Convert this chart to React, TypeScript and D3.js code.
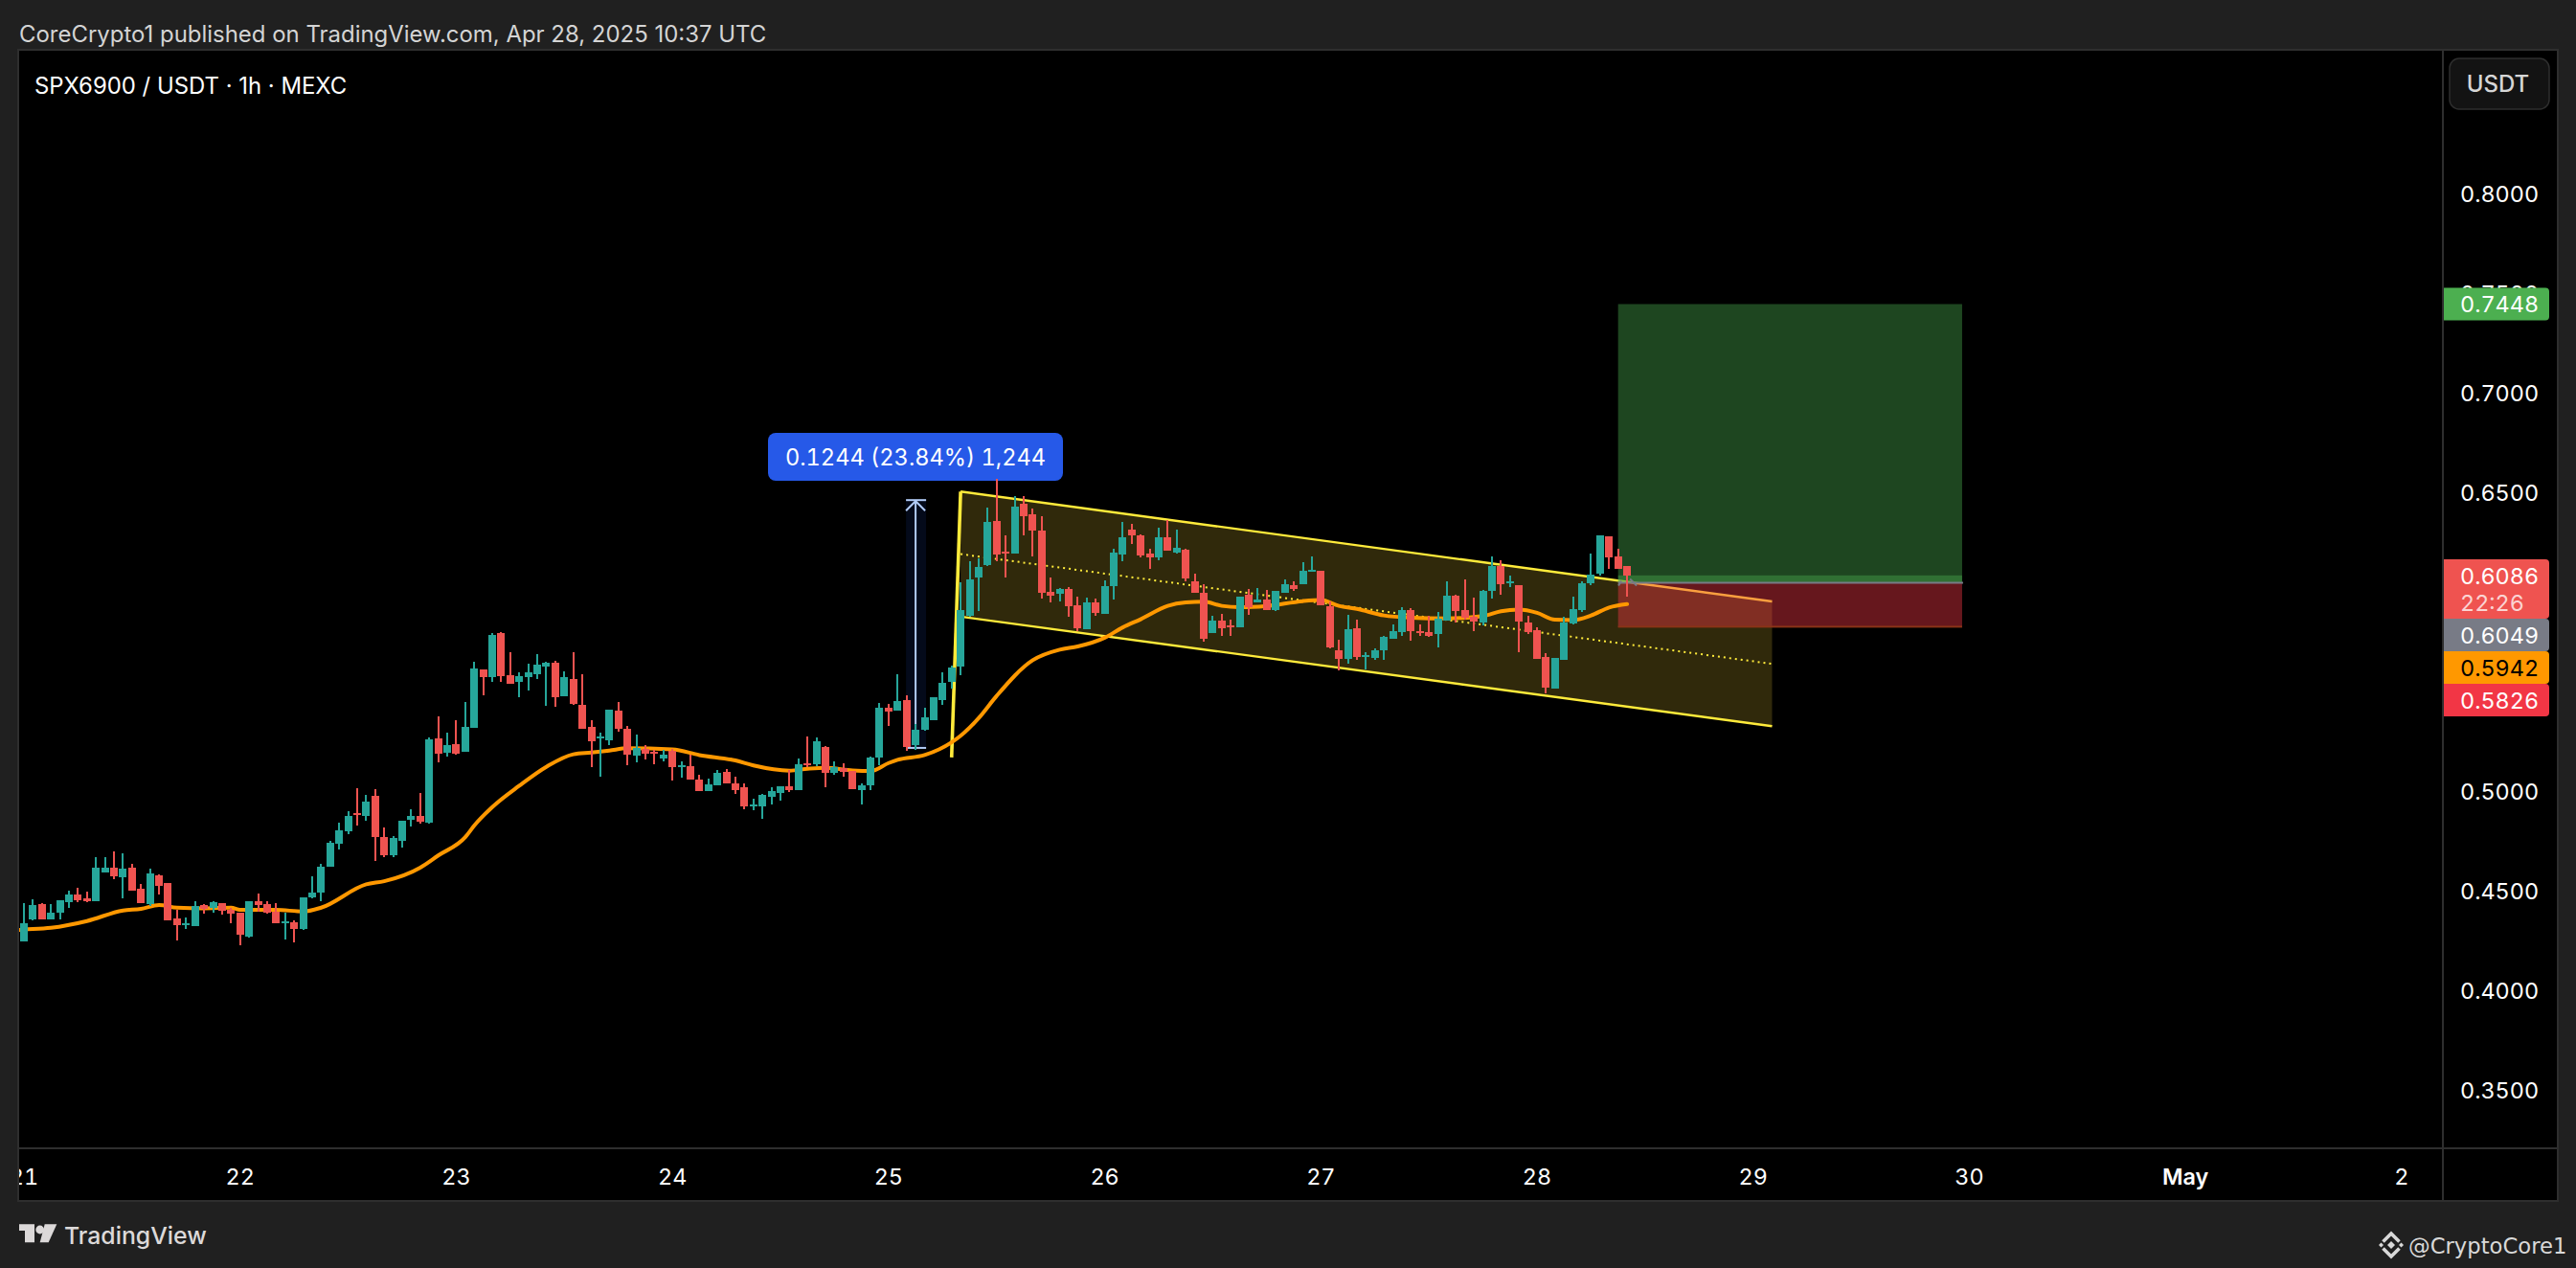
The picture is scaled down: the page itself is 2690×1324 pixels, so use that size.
import React from 'react';
import * as d3 from 'd3';

// hourly candles, first one is Apr 21 00:00 UTC
const opens = [
  .4250,.4359,.4436,.4359,.4393,.4446,.4484,.4465,.4450,.4595,.4619,.4571,.4619,.4513,.4436,.4580,.4542,.4364,.4333,.4325,
  .4430,.4417,.4441,.4407,.4393,.4273,.4450,.4436,.4399,.4340,.4345,.4311,.4470,.4494,.4624,.4739,.4801,.4893,.4878,.4979,
  .4773,.4681,.4753,.4859,.4878,.4845,.5268,.5196,.5239,.5200,.5321,.5614,.5575,.5797,.5585,.5551,.5575,.5590,.5628,.5648,
  .5479,.5566,.5436,.5326,.5271,.5258,.5407,.5316,.5181,.5215,.5199,.5167,.5205,.5127,.5128,.5061,.5003,.5032,.5100,.5042,
  .5023,.4930,.4926,.4974,.4994,.5027,.5008,.5143,.5138,.5224,.5095,.5119,.5104,.5008,.5032,.5172,.5422,.5407,.5460,.5234,
  .5311,.5359,.5460,.5551,.5628,.5883,.6075,.6138,.6359,.6205,.6196,.6446,.6393,.6311,.6003,.5994,.6018,.5936,.5816,.5950,
  .5893,.6032,.6191,.6316,.6287,.6196,.6176,.6277,.6200,.6215,.6056,.5999,.5797,.5859,.5834,.5826,.5989,.5950,.5965,.5912,
  .5999,.6037,.6042,.6104,.6109,.5931,.5710,.5667,.5821,.5680,.5672,.5710,.5768,.5801,.5912,.5806,.5801,.5792,.5859,.5984,
  .5912,.5878,.5850,.6008,.6133,.6050,.6037,.5850,.5811,.5676,.5518,.5662,.5845,.5912,.6047,.6095,.6282,.6181,.6133,
];
const highs = [
  .4441,.4460,.4441,.4436,.4455,.4503,.4518,.4499,.4672,.4672,.4700,.4691,.4638,.4537,.4614,.4585,.4542,.4407,.4369,.4450,
  .4436,.4450,.4441,.4417,.4393,.4450,.4489,.4450,.4441,.4393,.4354,.4470,.4575,.4638,.4753,.4845,.4902,.5018,.4984,.5013,
  .4821,.4777,.4854,.4912,.4994,.5273,.5378,.5297,.5359,.5450,.5652,.5614,.5797,.5801,.5700,.5600,.5643,.5691,.5652,.5657,
  .5604,.5700,.5590,.5359,.5297,.5412,.5450,.5330,.5287,.5234,.5210,.5210,.5215,.5152,.5186,.5085,.5066,.5109,.5114,.5075,
  .5042,.4965,.4989,.5022,.5027,.5109,.5167,.5277,.5273,.5229,.5152,.5143,.5104,.5042,.5176,.5446,.5441,.5590,.5484,.5340,
  .5422,.5475,.5600,.5633,.6051,.6157,.6172,.6426,.6571,.6287,.6484,.6484,.6422,.6383,.6075,.6022,.6027,.5979,.5975,.5970,
  .6061,.6220,.6354,.6345,.6292,.6220,.6325,.6364,.6316,.6220,.6095,.6042,.5883,.5893,.5864,.5979,.6018,.6023,.6013,.6008,
  .6066,.6056,.6152,.6181,.6109,.5955,.5763,.5888,.5864,.5700,.5720,.5782,.5840,.5927,.5922,.5840,.5883,.5902,.6056,.5989,
  .6066,.5975,.6013,.6181,.6162,.6085,.6037,.5883,.5826,.5696,.5672,.5878,.5979,.6056,.6196,.6287,.6282,.6220,.6133,
];
const lows = [
  .4250,.4354,.4359,.4359,.4359,.4417,.4446,.4446,.4450,.4595,.4561,.4465,.4503,.4441,.4426,.4484,.4354,.4253,.4311,.4325,
  .4388,.4393,.4383,.4340,.4229,.4268,.4398,.4388,.4340,.4258,.4244,.4306,.4465,.4450,.4624,.4710,.4787,.4830,.4854,.4652,
  .4672,.4672,.4720,.4825,.4840,.4840,.5148,.5176,.5186,.5200,.5321,.5484,.5551,.5551,.5542,.5475,.5508,.5566,.5431,.5426,
  .5479,.5436,.5316,.5124,.5075,.5234,.5301,.5133,.5148,.5162,.5138,.5152,.5056,.5071,.5061,.5003,.5003,.5032,.5042,.4989,
  .4912,.4907,.4864,.4936,.4955,.5000,.5008,.5124,.5128,.5022,.5085,.5075,.5013,.4936,.5008,.5133,.5330,.5407,.5205,.5210,
  .5306,.5359,.5436,.5518,.5585,.5878,.5907,.6133,.6157,.6075,.6196,.6287,.6181,.5970,.5950,.5955,.5878,.5806,.5816,.5883,
  .5893,.5965,.6157,.6244,.6176,.6119,.6162,.6210,.6196,.6056,.5998,.5753,.5797,.5782,.5782,.5826,.5888,.5950,.5912,.5907,
  .5999,.6008,.6042,.6104,.5936,.5720,.5609,.5643,.5662,.5614,.5662,.5662,.5768,.5782,.5758,.5782,.5777,.5725,.5859,.5850,
  .5864,.5806,.5835,.5970,.5989,.6027,.5700,.5792,.5667,.5494,.5518,.5662,.5840,.5902,.6037,.6085,.6119,.6119,.5979,
];
const closes = [
  .4340,.4431,.4359,.4393,.4455,.4484,.4455,.4450,.4619,.4619,.4575,.4614,.4503,.4441,.4590,.4527,.4354,.4330,.4340,.4426,
  .4412,.4446,.4402,.4388,.4282,.4450,.4431,.4393,.4340,.4350,.4311,.4470,.4494,.4624,.4744,.4806,.4878,.4883,.4950,.4773,
  .4681,.4768,.4854,.4878,.4849,.5263,.5191,.5234,.5191,.5326,.5619,.5575,.5787,.5580,.5542,.5580,.5600,.5638,.5648,.5475,
  .5575,.5441,.5316,.5253,.5277,.5412,.5316,.5186,.5220,.5191,.5193,.5186,.5124,.5133,.5061,.5003,.5037,.5095,.5042,.5008,
  .4926,.4936,.4984,.5003,.5027,.5008,.5138,.5132,.5253,.5096,.5124,.5101,.5013,.5032,.5172,.5422,.5402,.5455,.5224,.5311,
  .5374,.5475,.5547,.5625,.5912,.6066,.6128,.6354,.6191,.6196,.6431,.6383,.6311,.5998,.5984,.6018,.5931,.5821,.5950,.5898,
  .6032,.6200,.6277,.6287,.6186,.6176,.6277,.6210,.6225,.6071,.5998,.5768,.5859,.5821,.5827,.5979,.5927,.5965,.5912,.6008,
  .6042,.6018,.6109,.6114,.5936,.5725,.5667,.5816,.5676,.5686,.5710,.5777,.5806,.5912,.5806,.5797,.5782,.5869,.5984,.5907,
  .5874,.5854,.6008,.6133,.6042,.6056,.5854,.5801,.5667,.5523,.5672,.5850,.5917,.6047,.6090,.6287,.6176,.6119,.6086,
];

const maBars = [
  -1,0,3,7,11,13,15,17,20,23,24,28,31,33,38,40,44,46,49,50,52,55,58,61,63,65,67,72,75,79,81,85,87,89,92,94,96,97,100,103,
  104,106,108,112,115,117,120,122,124,127,129,131,133,135,138,142,144,146,148,151,154,158,162,164,166,168,170,172,174,176,178,
];
const maValues = [
  .4305,.4308,.4317,.4351,.4404,.4412,.4431,.4418,.4415,.4418,.4407,.4407,.4399,.4418,.4535,.4551,.4619,.4680,.4772,.4830,.4923,
  .5030,.5125,.5188,.5197,.5207,.5218,.5212,.5184,.5157,.5132,.5106,.5115,.5120,.5107,.5104,.5144,.5160,.5184,.5248,
  .5281,.5369,.5481,.5660,.5713,.5729,.5773,.5825,.5866,.5933,.5950,.5954,.5933,.5926,.5933,.5957,.5962,.5933,.5918,.5885,.5874,
  .5870,.5882,.5906,.5914,.5898,.5864,.5862,.5885,.5925,.5942,
];

// 0.55 and 0.60 sit behind the price labels, so they are left out
const priceTicks = [.35,.4,.45,.5,.65,.7,.75,.8];
const dayLabels = ['21','22','23','24','25','26','27','28','29','30','May','2'];
const dayBars = dayLabels.map((_, k) => k * 24);

// parallel channel drawing: bar / price anchors
const channelBars = [104, 194.1];
const channelUpper = [.6507, .5955];
const channelLower = [.5879, .5329];
const channelLegBars = [103, 104];
const channelLegPrices = [.5172, .6507];

// long position tool
const positionBars = [177, 215.2];
const positionPrices = { target: .7448, entry: .6049, close: .6086, stop: .5826 };

// price range tool
const rangeBar = 99;
const rangeTop = .6464;
const rangeBottom = .5220;

const axisLabels = [
  { text: '0.7448', price: .7448, fill: '#4caf50', color: '#ffffff', h: 34 },
  { text: '0.6049', price: .6049, fill: '#787b86', color: '#ffffff', h: 34, mid: 663 },
  { text: '0.5942', price: .5942, fill: '#ff9800', color: '#000000', h: 34, mid: 697 },
  { text: '0.5826', price: .5826, fill: '#f23645', color: '#ffffff', h: 34, mid: 731 },
];

const W = 2690;
const H = 1324;
const plot = { left: 20, right: 2551, top: 53, bottom: 1199, outerRight: 2670, outerBottom: 1253 };
const FONT = 'Inter, "Noto Sans", sans-serif';
const UP = '#26a69a';
const DOWN = '#ef5350';
const TNUM: React.CSSProperties = { fontVariantNumeric: 'tabular-nums' };

const x = d3.scaleLinear().domain([0, 178]).range([25, 25 + 178 * 9.405]);
const y = d3.scaleLinear().domain([.35, .8]).range([1138.7, 202.7]);

const App: React.FC = () => {
  const maLine = d3.line<number>()
    .x((_, i) => x(maBars[i]))
    .y(d => y(d))
    .curve(d3.curveMonotoneX);

  const chUp = channelBars.map((b, i) => [x(b), y(channelUpper[i])]);
  const chLow = channelBars.map((b, i) => [x(b), y(channelLower[i])]);
  const chMid = channelBars.map((b, i) => [x(b), y((channelUpper[i] + channelLower[i]) / 2)]);
  const legLine = channelLegBars.map((b, i) => [x(b), y(channelLegPrices[i])]);

  const pL = x(positionBars[0]);
  const pR = x(positionBars[1]);
  const rx = x(rangeBar);
  const rTop = y(rangeTop);
  const rBot = y(rangeBottom);

  return (
    <div style={{ position: 'fixed', left: 0, top: 0 }}>
      <svg width={W} height={H} style={{ display: 'block', background: '#202020' }} fontFamily={FONT}>
        <defs>
          <clipPath id="plotClip">
            <rect x={plot.left} y={plot.top} width={plot.right - plot.left} height={plot.bottom - plot.top} />
          </clipPath>
          <clipPath id="timeClip">
            <rect x={plot.left} y={plot.bottom} width={plot.right - plot.left} height={plot.outerBottom - plot.bottom} />
          </clipPath>
        </defs>

        <text x={20} y={44} fontSize={23.95} fill="#d4d4d4">CoreCrypto1 published on TradingView.com, Apr 28, 2025 10:37 UTC</text>

        <rect x={plot.left} y={plot.top} width={plot.outerRight - plot.left} height={plot.outerBottom - plot.top} fill="#000" />

        <g clipPath="url(#plotClip)">
          {/* channel */}
          <path d={`M${legLine[1]}L${chUp[1]}L${chLow[1]}L${chLow[0]}Z`} fill="#ffd83b" fillOpacity={0.19} />
          <line x1={chUp[0][0]} y1={chUp[0][1]} x2={chUp[1][0]} y2={chUp[1][1]} stroke="#ffeb3b" strokeWidth={2.4} />
          <line x1={chLow[0][0]} y1={chLow[0][1]} x2={chLow[1][0]} y2={chLow[1][1]} stroke="#ffeb3b" strokeWidth={2.4} />
          <line x1={chMid[0][0]} y1={chMid[0][1]} x2={chMid[1][0]} y2={chMid[1][1]} stroke="#ffeb3b" strokeWidth={2} strokeDasharray="2 4" />
          <line x1={legLine[0][0]} y1={legLine[0][1]} x2={legLine[1][0]} y2={legLine[1][1]} stroke="#ffeb3b" strokeWidth={3.6} />

          {/* position tool */}
          <rect x={pL} y={y(positionPrices.target)} width={pR - pL} height={y(positionPrices.entry) - y(positionPrices.target)} fill="#4caf50" fillOpacity={0.4} />
          <rect x={pL} y={y(positionPrices.close)} width={pR - pL} height={y(positionPrices.entry) - y(positionPrices.close)} fill="#4caf50" fillOpacity={0.4} />
          <rect x={pL} y={y(positionPrices.entry)} width={pR - pL} height={y(positionPrices.stop) - y(positionPrices.entry)} fill="#f23645" fillOpacity={0.42} />
          <rect x={pL} y={y(positionPrices.stop) - 1.5} width={pR - pL} height={2} fill="#8a3318" />
          <rect x={pL} y={y(positionPrices.entry) - 1} width={pR - pL + 1} height={2} fill="#787b86" />
          <path
            d={`M${x(178) - 9},${y(positionPrices.entry) + 3}L${x(178) - 6},${y(positionPrices.entry) - 2}M${x(178) + 3},${y(positionPrices.entry) - 4}L${x(178) + 10},${y(positionPrices.entry) + 3}`}
            stroke="#787b86"
            strokeWidth={2}
            fill="none"
          />

          {/* price range tool */}
          <rect x={rx - 10} y={rTop} width={21} height={rBot - rTop} fill="#2962ff" fillOpacity={0.1} />
          <line x1={rx} y1={rTop} x2={rx} y2={rBot} stroke="#b2ccf7" strokeWidth={2} />
          <line x1={rx - 10} y1={rTop} x2={rx + 11} y2={rTop} stroke="#b2ccf7" strokeWidth={2} />
          <line x1={rx - 10} y1={rBot} x2={rx + 11} y2={rBot} stroke="#b2ccf7" strokeWidth={2} />
          <path d={`M${rx - 10},${rTop + 11}L${rx},${rTop + 1}L${rx + 10},${rTop + 11}`} stroke="#b2ccf7" strokeWidth={2} fill="none" />
          <rect x={802} y={452} width={308} height={50} rx={8} fill="#2659e8" />
          <text x={956} y={486} fontSize={23.6} fill="#ffffff" textAnchor="middle" style={TNUM}>0.1244 (23.84%) 1,244</text>

          <path d={maLine(maValues) ?? ''} fill="none" stroke="#ff9800" strokeWidth={4} strokeLinejoin="round" strokeLinecap="round" />

          <g shapeRendering="crispEdges">
            {opens.map((o, i) => {
              const c = closes[i];
              const color = c >= o ? UP : DOWN;
              const cx = Math.round(x(i));
              const top = Math.round(y(Math.max(o, c)));
              const bot = Math.round(y(Math.min(o, c)));
              return (
                <g key={i} fill={color}>
                  <rect x={cx - 1} y={y(highs[i])} width={2} height={y(lows[i]) - y(highs[i])} />
                  <rect x={cx - 4} y={top} width={8} height={Math.max(bot - top, 2)} />
                </g>
              );
            })}
          </g>
        </g>

        <text x={36} y={98} fontSize={23.9} fill="#ffffff">SPX6900 / USDT · 1h · MEXC</text>

        {/* frame */}
        <g stroke="#2e2e2e" strokeWidth={2} fill="none">
          <rect x={plot.left - 1} y={plot.top - 1} width={plot.outerRight - plot.left + 2} height={plot.outerBottom - plot.top + 2} />
          <line x1={plot.left} y1={plot.bottom} x2={plot.outerRight} y2={plot.bottom} />
          <line x1={plot.right} y1={plot.top} x2={plot.right} y2={plot.outerBottom} />
        </g>

        {/* time axis */}
        <g clipPath="url(#timeClip)">
          {dayLabels.map((d, k) => (
            <text key={d} x={x(dayBars[k])} y={1237} fontSize={23.4} fill="#ffffff" textAnchor="middle" fontWeight={d === 'May' ? 600 : 400} style={TNUM}>{d}</text>
          ))}
        </g>

        {/* price axis */}
        {priceTicks.map(t => (
          <text key={t} x={2569} y={y(t) + 8.5} fontSize={23.4} fill="#ffffff" style={TNUM}>{d3.format('.4f')(t)}</text>
        ))}

        <rect x={2558} y={61} width={104} height={53} rx={10} fill="#131313" stroke="#2e2e2e" strokeWidth={1.5} />
        <text x={2608.5} y={96} fontSize={24} fill="#d6d6d6" textAnchor="middle" fontWeight={500}>USDT</text>

        <path d="M2552,584H2658a4,4 0 0 1 4,4V642a4,4 0 0 1 -4,4H2552Z" fill="#ef5350" />
        <text x={2569} y={610} fontSize={23.4} fill="#ffffff" style={TNUM}>0.6086</text>
        <text x={2569} y={637.5} fontSize={23.4} fill="#ffffff" fillOpacity={0.75} style={TNUM}>22:26</text>
        {axisLabels.map(l => {
          const mid = l.mid ?? y(l.price);
          const t = mid - l.h / 2;
          return (
            <g key={l.text}>
              <path d={`M2552,${t}H2658a4,4 0 0 1 4,4V${t + l.h - 4}a4,4 0 0 1 -4,4H2552Z`} fill={l.fill} />
              <text x={2569} y={mid + 8.5} fontSize={23.4} fill={l.color} style={TNUM}>{l.text}</text>
            </g>
          );
        })}

        {/* footer */}
        <g fill="#dcd9d9">
          <path d="M20,1278.3H36V1297.3H26V1285H20Z" />
          <circle cx={41.7} cy={1284} r={4.4} />
          <path d="M46.7,1278.3H59.3L50.7,1297.3H41.7Z" />
          <text x={67} y={1298.5} fontSize={24.8} fontWeight={500}>TradingView</text>
        </g>
        <g fill="none" stroke="#d9d9d9" strokeWidth={3.6}>
          <path d="M2488.5,1296.5L2497,1288L2505.5,1296.5" />
          <path d="M2488.5,1303.5L2497,1312L2505.5,1303.5" />
        </g>
        <g fill="#d9d9d9">
          <path d="M2497,1296L2501,1300L2497,1304L2493,1300Z" />
          <path d="M2486.5,1297.5L2489,1300L2486.5,1302.5L2484,1300Z" />
          <path d="M2507.5,1297.5L2510,1300L2507.5,1302.5L2505,1300Z" />
        </g>
        <text x={2515} y={1308.5} fontSize={22.7} fill="#d9d9d9" fontFamily='"DejaVu Sans", sans-serif'>@CryptoCore1</text>
      </svg>
    </div>
  );
};

export default App;
